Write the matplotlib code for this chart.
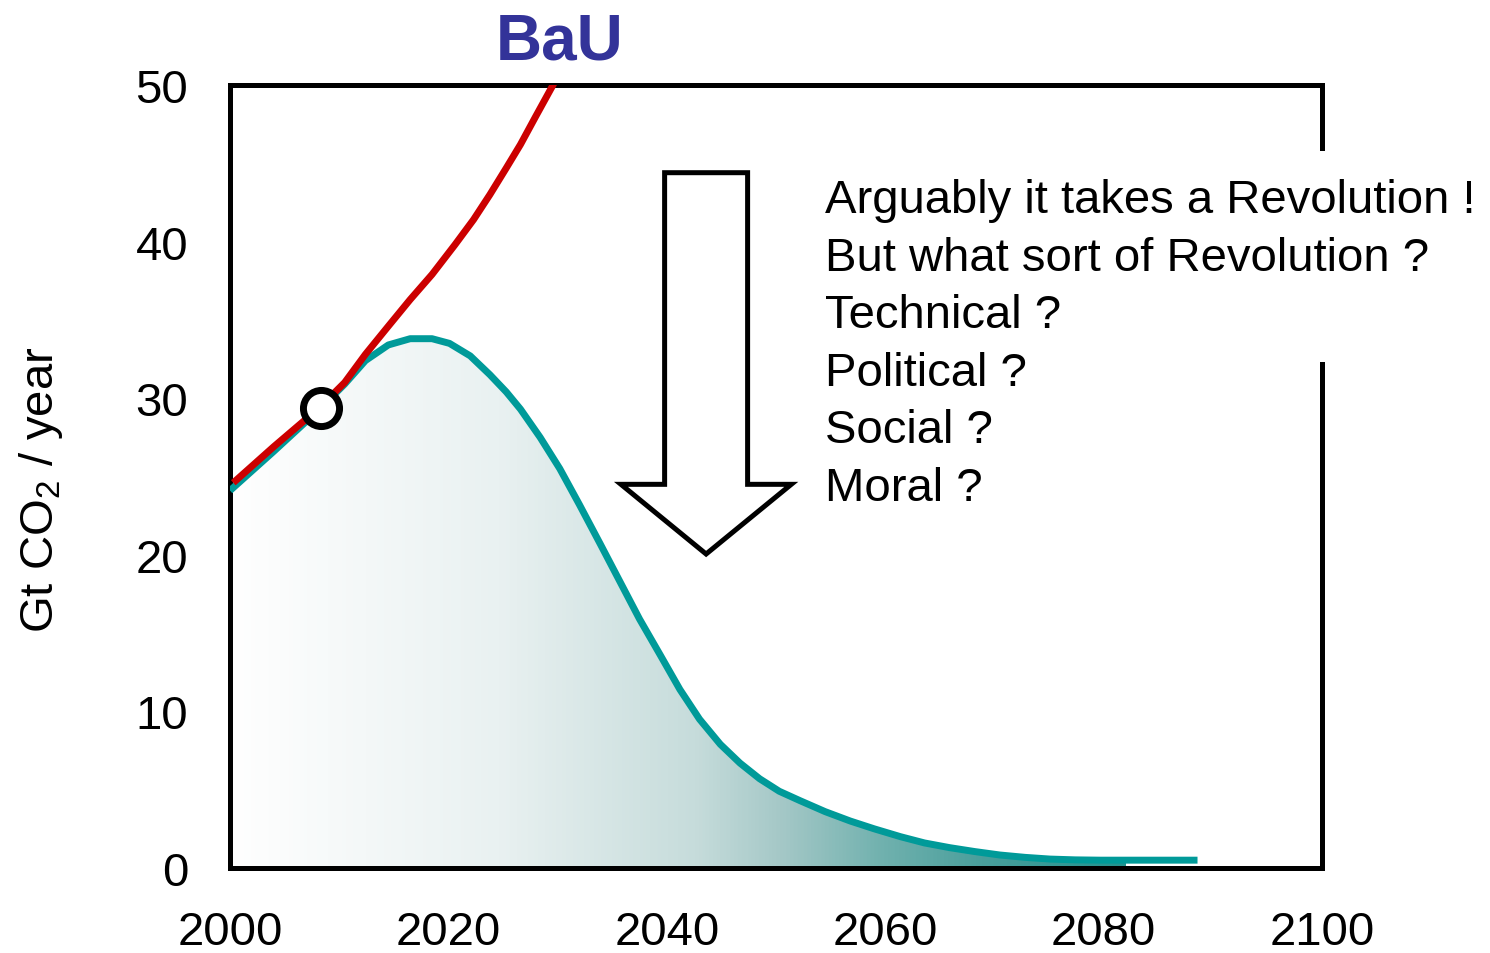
import matplotlib
matplotlib.use("Agg")
import matplotlib.pyplot as plt
import numpy as np
from matplotlib.colors import LinearSegmentedColormap
from matplotlib.patches import FancyArrow, Rectangle

plt.rcParams['font.family'] = ['Liberation Sans', 'DejaVu Sans']
plt.rcParams['mathtext.fontset'] = 'custom'
plt.rcParams['mathtext.rm'] = 'Liberation Sans'

# %% Data
bau_years = [2000.3, 2004.0, 2008.2, 2010.5, 2012.4, 2014.5, 2016.5, 2018.5,
             2020.6, 2022.3, 2023.8, 2025.3, 2026.6, 2028.0, 2029.5, 2030.5]
bau_values = [24.6, 26.9, 29.4, 31.0, 32.8, 34.6, 36.3, 37.9,
              39.8, 41.4, 43.0, 44.7, 46.2, 48.0, 49.9, 51.2]

path_years = [2000.0, 2004.0, 2008.2, 2010.5, 2012.4, 2014.5, 2016.5, 2018.5,
              2020.1, 2022.0, 2023.8, 2025.3, 2026.6, 2028.4, 2030.2, 2032.0,
              2033.9, 2035.7, 2037.5, 2039.4, 2041.2, 2043.0, 2044.9, 2046.7,
              2048.5, 2050.3, 2052.2, 2054.5, 2056.8, 2059.0, 2061.4, 2063.6,
              2065.9, 2068.2, 2070.5, 2072.8, 2075.1, 2077.4, 2079.7, 2085.0,
              2088.6]
path_values = [24.1, 26.6, 29.3, 30.9, 32.4, 33.4, 33.8, 33.8,
               33.5, 32.7, 31.5, 30.4, 29.3, 27.5, 25.5, 23.2,
               20.7, 18.3, 15.9, 13.6, 11.4, 9.5, 7.9, 6.7,
               5.7, 4.9, 4.3, 3.6, 3.0, 2.5, 2.0, 1.6,
               1.3, 1.05, 0.83, 0.68, 0.57, 0.52, 0.50, 0.50,
               0.50]

today_year = 2008.3
today_value = 29.4

x_ticks = [2000, 2020, 2040, 2060, 2080, 2100]
y_ticks = [0, 10, 20, 30, 40, 50]

questions = ['Arguably it takes a Revolution !',
             'But what sort of Revolution ?',
             'Technical ?',
             'Political ?',
             'Social ?',
             'Moral ?']

# %% Figure
fig = plt.figure(figsize=(14.9, 9.54), dpi=100)
ax = fig.add_axes([230 / 1490, 1 - 869 / 954, 1092 / 1490, 783 / 954])
ax.set_xlim(2000, 2100)
ax.set_ylim(0, 50)

# gradient fill under the pathway
grad_cmap = LinearSegmentedColormap.from_list(
    'shade',
    [(0.0, '#ffffff'), (0.3, '#e9f1f1'), (0.52, '#c6dcdb'),
     (0.62, '#a3c7c6'), (0.73, '#70b1ae'), (0.84, '#4a9f9c'),
     (1.0, '#229490')])
fill = ax.fill_between(path_years, path_values, 0, color='none', lw=0)
grad = np.linspace(0, 1, 512).reshape(1, -1)
img = ax.imshow(grad, cmap=grad_cmap, aspect='auto', origin='lower',
                extent=[2000, 2082, 0, 50], zorder=1)
img.set_clip_path(fill.get_paths()[0], transform=ax.transData)

ax.plot(path_years, path_values, color='#009a99', lw=5,
        solid_capstyle='butt', solid_joinstyle='round', zorder=3)
ax.plot(bau_years, bau_values, color='#cc0000', lw=5,
        solid_capstyle='butt', solid_joinstyle='round', zorder=4)
ax.plot([today_year], [today_value], 'o', ms=26, mfc='white', mec='black',
        mew=5, zorder=5)

# big hollow arrow
ax.add_patch(FancyArrow(2043.6, 44.4, 0, -24.35, width=7.6,
                        head_width=15.6, head_length=4.45,
                        length_includes_head=True, fc='white', ec='black',
                        lw=3.6, zorder=6))

# frame
for side in ['top', 'bottom', 'left', 'right']:
    ax.spines[side].set_linewidth(3.6)
    ax.spines[side].set_color('black')
ax.add_patch(Rectangle((2097, 32.3), 6, 13.5, fc='white', ec='none',
                       clip_on=False, zorder=10))

ax.set_xticks(x_ticks)
ax.set_yticks(y_ticks)
ax.tick_params(length=0, labelsize=34, pad=30)
ax.set_ylabel('Gt CO$_2$ / year', fontsize=34)
ax.yaxis.set_label_coords(-0.151, 0.484)

# questions
for i, line in enumerate(questions):
    ax.text(0.545, (869 - 213 - 57.6 * i) / 783, line,
            transform=ax.transAxes, ha='left', va='baseline', fontsize=34,
            zorder=11)

fig.text(560 / 1490, 1 - 59 / 954, 'BaU', ha='center', va='baseline',
         fontsize=46, fontweight='bold', color='#333399')

fig.savefig('out.png', dpi=100)
